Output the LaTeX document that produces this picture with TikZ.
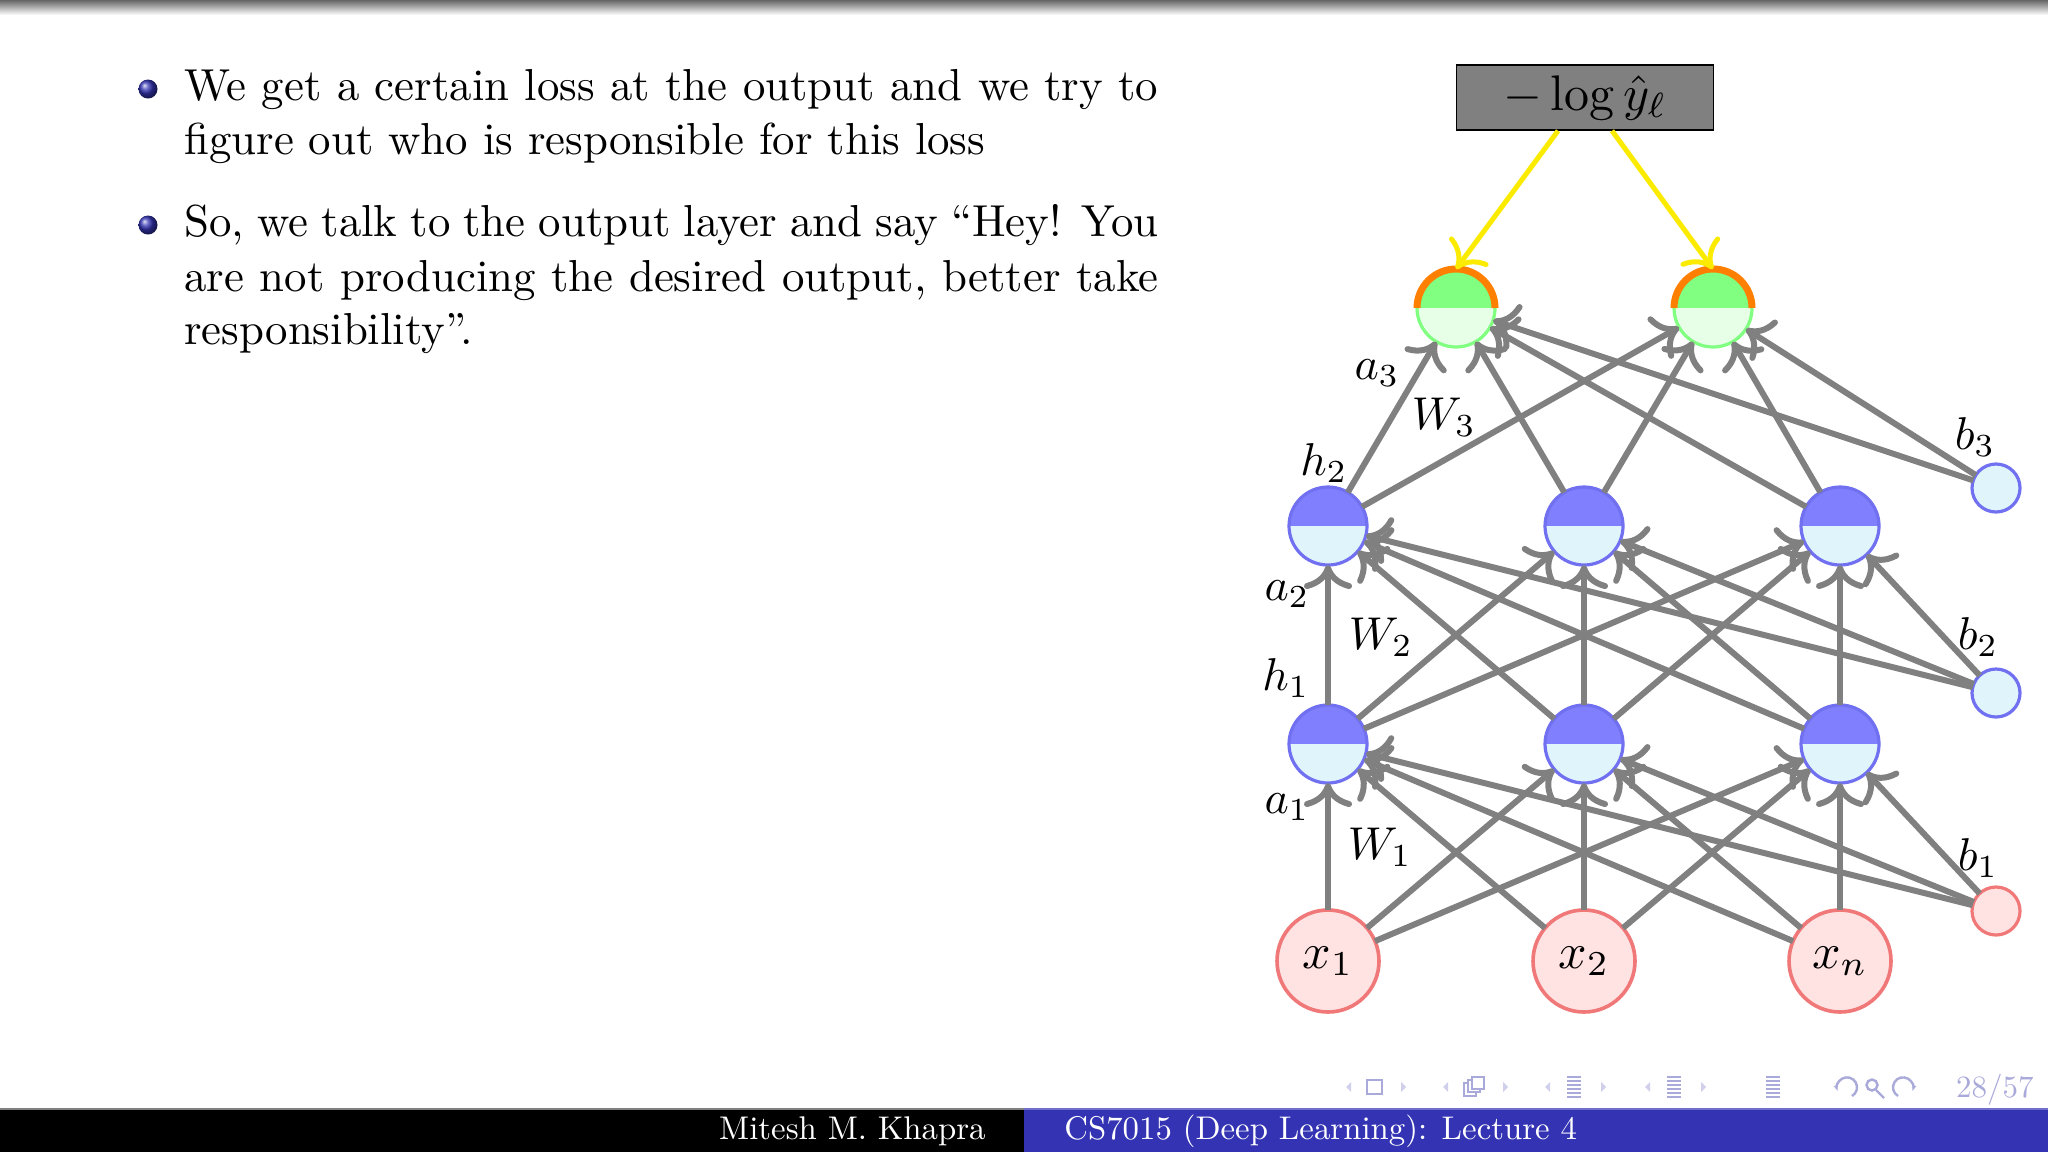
\documentclass[tikz,border=0pt]{standalone}
\usetikzlibrary{arrows.meta,backgrounds}
\definecolor{edgegray}{RGB}{128,128,128}
\definecolor{dotgray}{RGB}{200,200,200}
\definecolor{hidtop}{RGB}{128,128,255}
\definecolor{hidbot}{RGB}{224,244,252}
\definecolor{hidline}{RGB}{112,112,240}
\definecolor{outtop}{RGB}{128,255,128}
\definecolor{outbot}{RGB}{230,255,230}
\definecolor{inpfill}{RGB}{255,226,226}
\definecolor{inpline}{RGB}{240,120,120}
\definecolor{arcorange}{RGB}{255,128,0}
\definecolor{lossyellow}{RGB}{250,235,0}
\definecolor{lossgray}{RGB}{128,128,128}
\definecolor{footblue}{RGB}{51,51,179}
\definecolor{navc}{RGB}{170,170,218}
\definecolor{navl}{RGB}{208,208,236}
\newcommand\mlbl[1]{\scalebox{2.3}{$#1$}}
\newcommand\mbig[1]{\scalebox{2.5}{$#1$}}
\newcommand\bodyline[1]{\scalebox{2.24}{\makebox[217.4pt][s]{#1}}}
\newcommand\bodylast[1]{\scalebox{2.24}{#1}}
\tikzset{
  halfnode/.style n args={3}{circle, inner sep=0pt, outer sep=0pt, minimum size=39pt,
    draw=#3, line width=1.6pt, fill=#2,
    path picture={\fill[#1] (path picture bounding box.west) rectangle (path picture bounding box.north east);}},
  hid/.style={halfnode={hidtop}{hidbot}{hidline}},
  outn/.style={halfnode={outtop}{outbot}{outtop}},
  inp/.style={circle, inner sep=0pt, outer sep=0pt, minimum size=51pt, draw=inpline, line width=1.8pt, fill=inpfill},
  biash/.style={circle, inner sep=0pt, outer sep=0pt, minimum size=24pt, draw=hidline, line width=1.6pt, fill=hidbot},
  biasi/.style={circle, inner sep=0pt, outer sep=0pt, minimum size=24pt, draw=inpline, line width=1.6pt, fill=inpfill},
  conn/.style={draw=edgegray, line width=3pt, -{Computer Modern Rightarrow[width=24pt,length=12pt]}},
  yconn/.style={draw=lossyellow, line width=2.5pt, -{Computer Modern Rightarrow[width=24pt,length=12pt]}},
  dotline/.style={draw=dotgray, line width=3.5pt, dash pattern=on 4pt off 9.5pt},
  lbl/.style={inner sep=0pt},
  bodytext/.style={anchor=base west, inner sep=0pt},
  navline/.style={draw=navc, line width=1.2pt},
}
\begin{document}
\begin{tikzpicture}[x=0.5pt,y=0.5pt]
\fill[white] (0,0) rectangle (2048,-1152);
\useasboundingbox (0,0) rectangle (2048,-1152);
% top gradient
\shade[top color=black!60, bottom color=white] (0,0) rectangle (2048,-15);

% bullets and text
\shade[ball color=footblue] (148,-89) circle (9.5);
\shade[ball color=footblue] (148,-225) circle (9.5);
\node[bodytext] (t1a) at (184,-100) {\bodyline{We get a certain loss at the output and we try to}};
\node[bodytext] (t1b) at (184,-154) {\bodylast{figure out who is responsible for this loss}};
\node[bodytext] (t2a) at (184,-236) {\bodyline{So, we talk to the output layer and say “Hey! You}};
\node[bodytext] (t2b) at (184,-291) {\bodyline{are not producing the desired output, better take}};
\node[bodytext] (t2c) at (184,-344) {\bodylast{responsibility”.}};

% loss box
\node[draw=black, line width=0.8pt, fill=lossgray, minimum width=128.5pt, minimum height=32.5pt,
      inner sep=0pt] (loss) at (1585,-97.5) {\mbig{-\log\hat{y}_\ell}};

% nodes
\node[outn] (o1) at (1456,-308) {};
\node[outn] (o2) at (1713,-308) {};
\node[hid] (h2a) at (1328,-526) {};
\node[hid] (h2b) at (1584,-526) {};
\node[hid] (h2c) at (1840,-526) {};
\node[hid] (h1a) at (1328,-744) {};
\node[hid] (h1b) at (1584,-744) {};
\node[hid] (h1c) at (1840,-744) {};
\node[inp] (x1) at (1328,-961) {\mbig{x_1}};
\node[inp] (x2) at (1584,-961) {\mbig{x_2}};
\node[inp] (xn) at (1840,-961) {\mbig{x_n}};
\node[biash] (b3) at (1996,-488) {};
\node[biash] (b2) at (1996,-693) {};
\node[biasi] (b1) at (1996,-911) {};

% dotted layer lines (behind nodes)
\begin{scope}[on background layer]
\draw[dotline] (o1.east) -- (o2.west);
\draw[dotline] (h2a.east) -- (h2b.west);
\draw[dotline] (h2b.east) -- (h2c.west);
\draw[dotline] (h1a.east) -- (h1b.west);
\draw[dotline] (h1b.east) -- (h1c.west);
\draw[dotline] (x1.east) -- (x2.west);
\draw[dotline] (x2.east) -- (xn.west);
\end{scope}

% orange arcs
\draw[arcorange, line width=3.5pt] (o1.west) arc[start angle=180, end angle=0, radius=19.5pt];
\draw[arcorange, line width=3.5pt] (o2.west) arc[start angle=180, end angle=0, radius=19.5pt];

% connections
\foreach \s in {x1,x2,xn,b1} \foreach \t in {h1a,h1b,h1c} \draw[conn] (\s) -- (\t);
\foreach \s in {h1a,h1b,h1c,b2} \foreach \t in {h2a,h2b,h2c} \draw[conn] (\s) -- (\t);
\foreach \s in {h2a,h2b,h2c,b3} \foreach \t in {o1,o2} \draw[conn] (\s) -- (\t);
\draw[yconn] ([xshift=-13.5pt]loss.south) -- (o1.north);
\draw[yconn] ([xshift=13.5pt]loss.south) -- (o2.north);

% labels
\node[lbl] (la3) at (1377,-373) {\mlbl{a_3}};
\node[lbl] (lW3) at (1444,-417) {\mlbl{W_3}};
\node[lbl] (lh2) at (1324,-463) {\mlbl{h_2}};
\node[lbl] (la2) at (1287,-594) {\mlbl{a_2}};
\node[lbl] (lW2) at (1381,-637) {\mlbl{W_2}};
\node[lbl] (lh1) at (1286,-678) {\mlbl{h_1}};
\node[lbl] (la1) at (1287,-807) {\mlbl{a_1}};
\node[lbl] (lW1) at (1380,-847) {\mlbl{W_1}};
\node[lbl] (lb3) at (1975,-437) {\mlbl{b_3}};
\node[lbl] (lb2) at (1978,-637) {\mlbl{b_2}};
\node[lbl] (lb1) at (1978,-858) {\mlbl{b_1}};

% navigation symbols
\foreach \lx/\rx in {1346/1406,1443/1508,1545/1606,1645/1706}{
  \fill[navl] (\lx,-1087) -- (\lx+5,-1082) -- (\lx+5,-1092) -- cycle;
  \fill[navl] (\rx,-1087) -- (\rx-5,-1082) -- (\rx-5,-1092) -- cycle;
}
\draw[navline] (1367,-1080) rectangle (1382,-1094);
\draw[navline, fill=white] (1464,-1083) rectangle (1476,-1096);
\draw[navline, fill=white] (1468,-1080) rectangle (1480,-1092);
\draw[navline, fill=white] (1472,-1077) rectangle (1484,-1089);
\foreach \xa in {1567,1667,1766}{
  \foreach \yy in {1077,1081,1085,1089,1093,1097}{
    \draw[navc, line width=0.9pt] (\xa,-\yy) -- (\xa+14,-\yy);
  }
}
\draw[navline, -{Stealth[length=3pt]}] (1852,-1096) arc[start angle=-60, end angle=200, radius=5pt];
\draw[navline] (1872,-1085) circle (5.5);
\draw[navline] (1876,-1090) -- (1884,-1098);
\draw[navline, -{Stealth[length=3pt]}] (1898,-1096) arc[start angle=240, end angle=-20, radius=5pt];
\node[anchor=base east, inner sep=0pt, text=navc] (pg) at (2034,-1097) {\scalebox{1.55}{28/57}};

% footer
\fill[black!50] (0,-1107.5) rectangle (1024,-1110);
\fill[footblue!70!white] (1024,-1107.5) rectangle (2048,-1110);
\fill[black] (0,-1110) rectangle (1024,-1152);
\fill[footblue] (1024,-1110) rectangle (2048,-1152);
\node[anchor=base east, inner sep=0pt, text=white] (fauthor) at (986,-1139) {\scalebox{1.64}{Mitesh M. Khapra}};
\node[anchor=base west, inner sep=0pt, text=white] (ftitle) at (1064,-1139) {\scalebox{1.64}{CS7015 (Deep Learning): Lecture 4}};
\end{tikzpicture}
\end{document}
